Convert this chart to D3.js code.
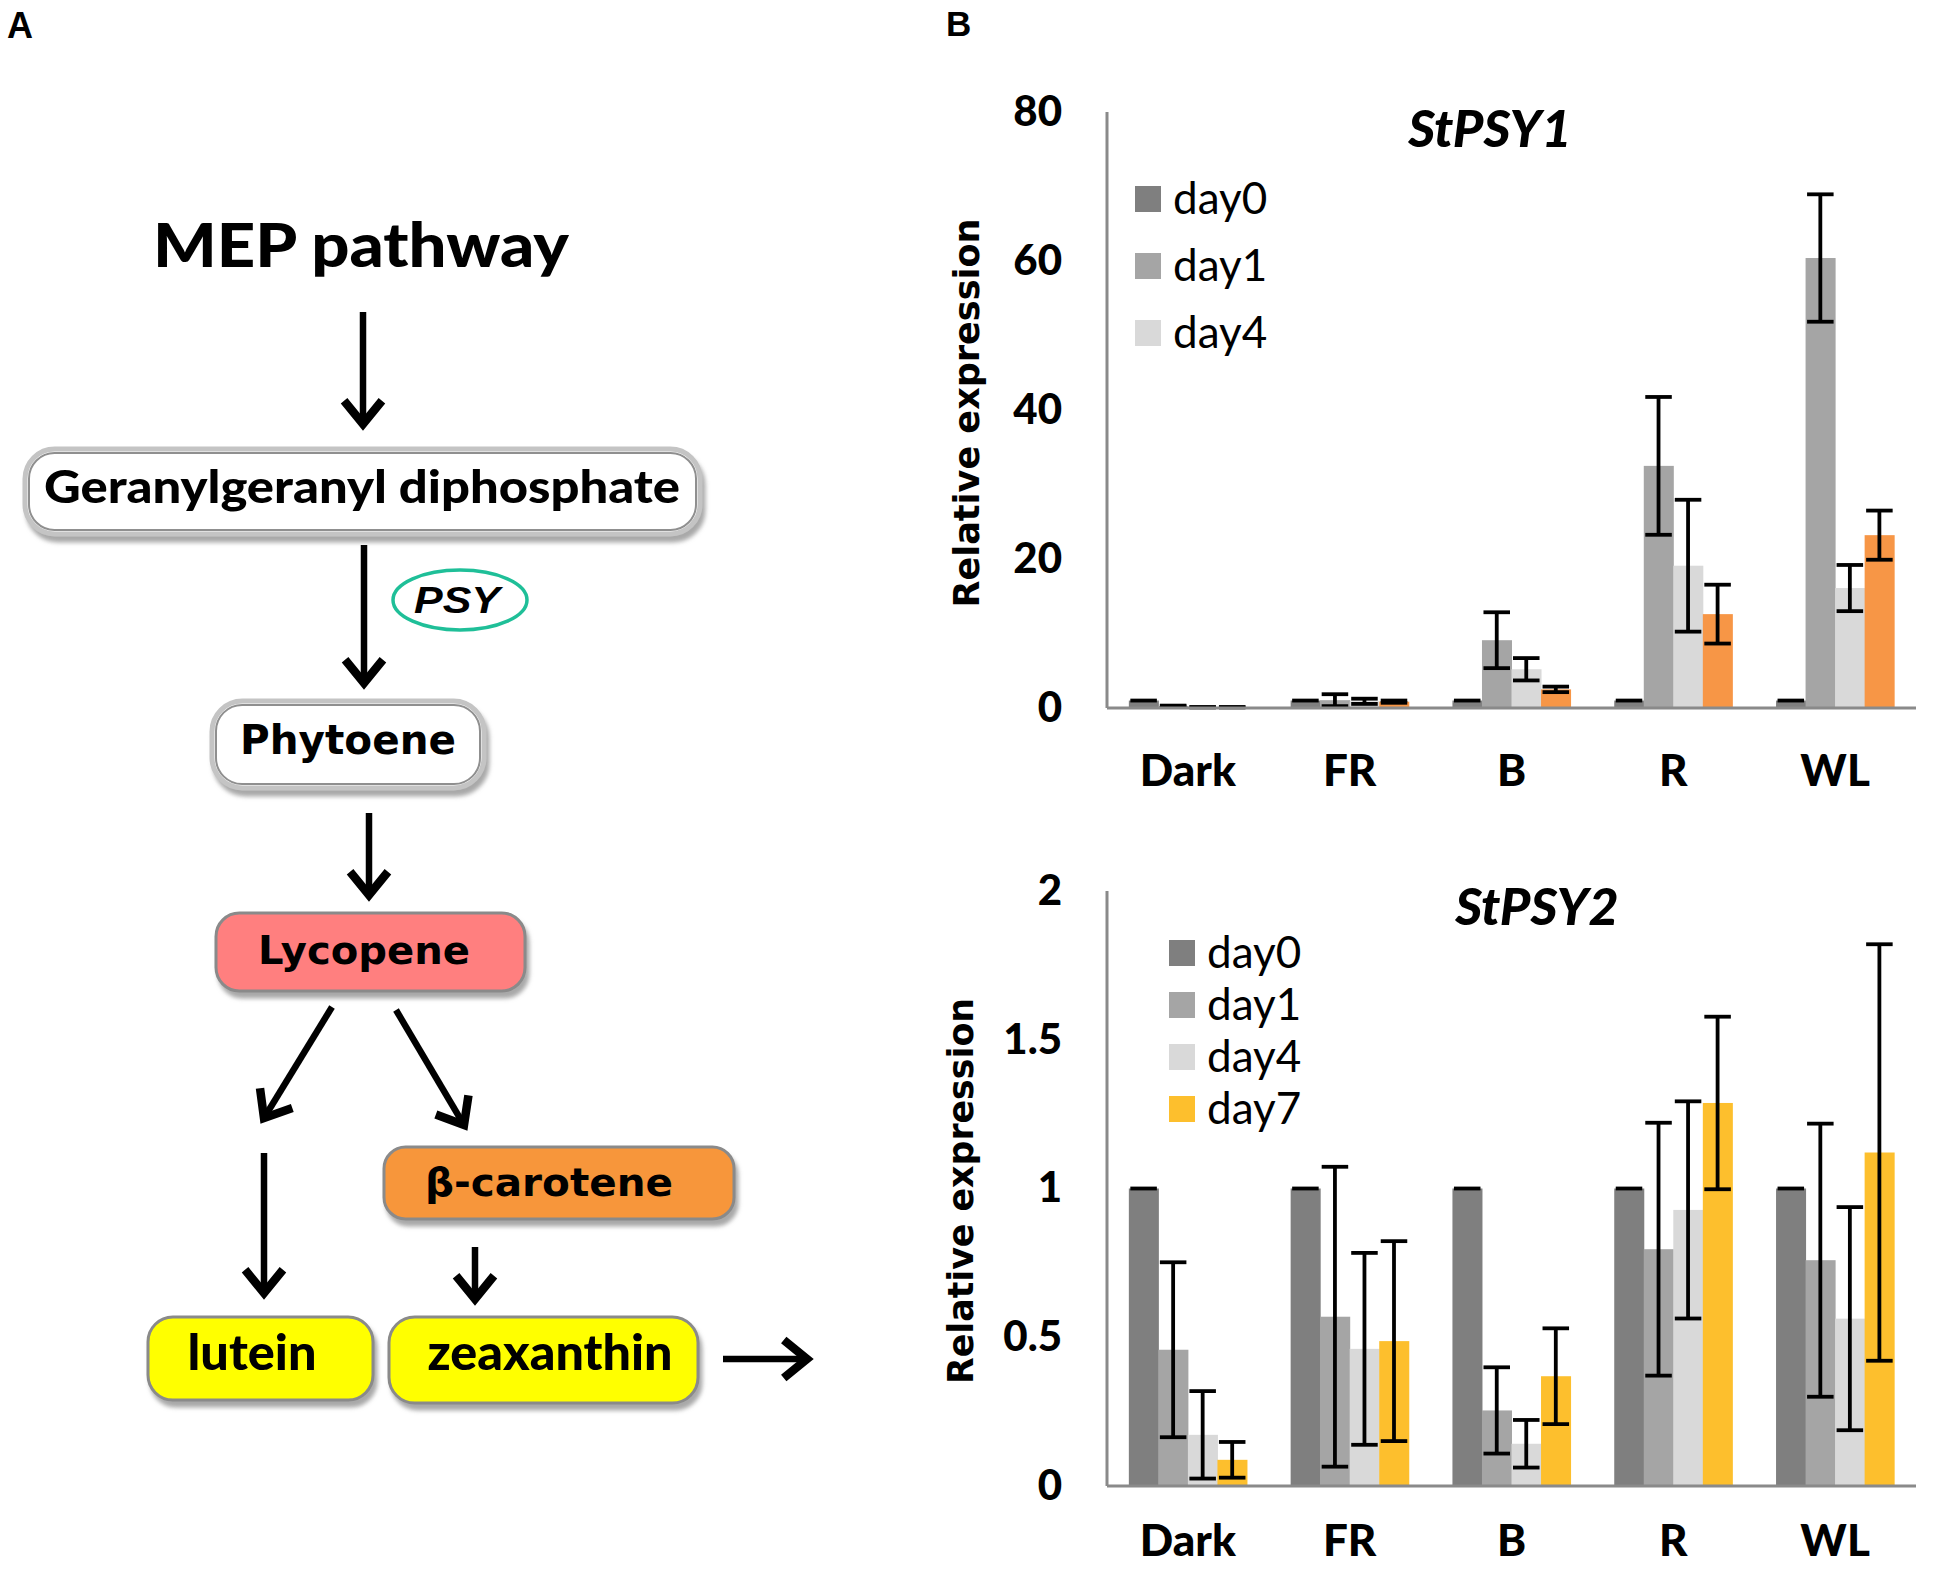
<!DOCTYPE html>
<html><head><meta charset="utf-8">
<script src="https://cdn.jsdelivr.net/npm/d3@7"></script>
<style>body{margin:0;background:#fff}svg{display:block;background:#fff}</style>
</head><body>
<svg id="c" width="1955" height="1570"></svg>
<script>
// ---------------- DATA ----------------
const categories = ["Dark", "FR", "B", "R", "WL"];
const seriesNames = ["day0", "day1", "day4", "day7"];

// StPSY1 (panel B, top)
const psy1Day0 = [1, 1, 1, 1, 1];
const psy1Day1 = [0.27, 1.05, 9.1, 32.5, 60.4];
const psy1Day4 = [0.1, 0.9, 5.2, 19.1, 16.1];
const psy1Day7 = [0.1, 0.85, 2.5, 12.6, 23.2];
const psy1Err0 = [0, 0, 0, 0, 0];
const psy1Err1 = [0.05, 0.8, 3.75, 9.25, 8.55];
const psy1Err4 = [0.03, 0.35, 1.5, 8.85, 3.1];
const psy1Err7 = [0.03, 0.15, 0.37, 3.95, 3.3];
const psy1Ticks = [0, 20, 40, 60, 80];
const psy1Legend = ["day0", "day1", "day4"];

// StPSY2 (panel B, bottom)
const psy2Day0 = [1, 1, 1, 1, 1];
const psy2Day1 = [0.458, 0.569, 0.254, 0.796, 0.759];
const psy2Day4 = [0.172, 0.461, 0.142, 0.928, 0.5625];
const psy2Day7 = [0.088, 0.487, 0.369, 1.2875, 1.121];
const psy2Err0 = [0, 0, 0, 0, 0];
const psy2Err1 = [0.294, 0.504, 0.145, 0.425, 0.459];
const psy2Err4 = [0.147, 0.3225, 0.08, 0.365, 0.375];
const psy2Err7 = [0.06, 0.336, 0.161, 0.29, 0.70];
const psy2Ticks = [0, 0.5, 1, 1.5, 2];
const psy2TickLabels = ["0", "0.5", "1", "1.5", "2"];
const psy2Legend = ["day0", "day1", "day4", "day7"];

// Panel A pathway labels
const pathwayLabels = ["MEP pathway", "Geranylgeranyl diphosphate", "PSY", "Phytoene",
  "Lycopene", "β-carotene", "lutein", "zeaxanthin"];

// ---------------- DRAWING ----------------
const svg = d3.select("#c");
const defs = svg.append("defs");
const f = defs.append("filter").attr("id", "shadow").attr("x", "-10%").attr("y", "-20%")
  .attr("width", "130%").attr("height", "160%");
f.append("feDropShadow").attr("dx", 3).attr("dy", 6).attr("stdDeviation", 2)
  .attr("flood-color", "#8c8c8c").attr("flood-opacity", 0.75);

const CAL = "Lato, 'Open Sans', sans-serif";
const VER = "'DejaVu Sans', Verdana, sans-serif";
const ARI = "'Liberation Sans', Arial, sans-serif";

// panel letters
svg.append("text").attr("x", 7).attr("y", 38).text("A")
  .style("font-family", ARI).style("font-weight", "bold").style("font-size", "36px");
svg.append("text").attr("x", 946).attr("y", 36).text("B")
  .style("font-family", ARI).style("font-weight", "bold").style("font-size", "35px");

function drawChart(o) {
  const g = svg.append("g");
  const x = d3.scaleBand().domain(categories).range([o.x0, o.x1])
    .paddingInner(0.27).paddingOuter(0.135);
  const xs = d3.scaleBand().domain(seriesNames).range([0, x.bandwidth()]).padding(0);
  const y = d3.scaleLinear().domain([0, o.yMax]).range([o.yBottom, o.yTop]);
  const bw = xs.bandwidth();

  const rows = [];
  seriesNames.forEach((s, si) => {
    categories.forEach((c, ci) => {
      rows.push({ s, c, v: o.means[si][ci], e: o.errs[si][ci], color: o.colors[si] });
    });
  });

  g.append("g").selectAll("rect").data(rows).join("rect")
    .attr("x", d => x(d.c) + xs(d.s))
    .attr("y", d => y(d.v))
    .attr("width", bw + 0.5)
    .attr("height", d => y(0) - y(d.v))
    .attr("fill", d => d.color);

  // error bars
  const eg = g.append("g").attr("stroke", "#000").attr("stroke-width", 3.8);
  const capW = bw - 3;
  rows.forEach(d => {
    const cx = x(d.c) + xs(d.s) + bw / 2;
    const yt = y(d.v + d.e), yb = y(d.v - d.e);
    if (d.e > 0) eg.append("line").attr("x1", cx).attr("x2", cx).attr("y1", yt).attr("y2", yb);
    eg.append("line").attr("x1", cx - capW / 2).attr("x2", cx + capW / 2).attr("y1", yt).attr("y2", yt);
    if (d.e > 0) eg.append("line").attr("x1", cx - capW / 2).attr("x2", cx + capW / 2).attr("y1", yb).attr("y2", yb);
  });

  // axes
  const ya = d3.axisLeft(y).tickValues(o.ticks).tickSize(0).tickSizeOuter(0).tickPadding(45)
    .tickFormat((d, i) => o.tickLabels[i]);
  const yg = g.append("g").attr("transform", `translate(${o.x0},0)`).call(ya);
  const xa = d3.axisBottom(x).tickSize(0).tickSizeOuter(0).tickPadding(o.xPad);
  const xg = g.append("g").attr("transform", `translate(0,${o.yBottom})`).call(xa);
  [yg, xg].forEach(a => {
    a.select(".domain").attr("stroke", "#8a8a8a").attr("stroke-width", 3);
    a.selectAll("text").style("font-family", CAL).style("font-weight", "900")
      .attr("fill", "#000");
  });
  yg.selectAll("text").style("font-size", "42px");
  xg.selectAll("text").style("font-size", "44px");
  yg.select(".domain").attr("d", `M0,${o.yTop}V${o.yBottom}`);
  xg.select(".domain").attr("d", `M${o.x0},0H${o.x1}`);

  // y title
  g.append("text").text("Relative expression")
    .attr("transform", `translate(${o.ytX},${o.ytY}) rotate(-90)`)
    .attr("text-anchor", "middle").attr("dy", "0.36em")
    .attr("textLength", o.ytLen).attr("lengthAdjust", "spacingAndGlyphs")
    .style("font-family", VER).style("font-weight", "bold").style("font-size", "35px");

  // title
  g.append("text").text(o.title).attr("x", o.tX).attr("y", o.tY)
    .attr("text-anchor", "middle")
    .style("font-family", CAL).style("font-weight", "900").style("font-style", "italic")
    .style("font-size", "52px");

  // legend
  const lg = g.append("g");
  o.legend.forEach((name, i) => {
    const si = seriesNames.indexOf(name);
    const cy = o.lgY0 + i * o.lgStep;
    lg.append("rect").attr("x", o.lgX).attr("y", cy - 13).attr("width", 26).attr("height", 26)
      .attr("fill", o.colors[si]);
    lg.append("text").text(name).attr("x", o.lgX + 38).attr("y", cy + 15)
      .style("font-family", CAL).style("font-size", "44px");
  });
}

drawChart({
  x0: 1107, x1: 1916, yTop: 112, yBottom: 708, yMax: 80, xPad: 47,
  ticks: psy1Ticks, tickLabels: psy1Ticks.map(String),
  means: [psy1Day0, psy1Day1, psy1Day4, psy1Day7],
  errs: [psy1Err0, psy1Err1, psy1Err4, psy1Err7],
  colors: ["#7f7f7f", "#a5a5a5", "#d9d9d9", "#f79646"],
  title: "StPSY1", tX: 1490, tY: 147,
  ytX: 966, ytY: 413, ytLen: 389,
  legend: psy1Legend, lgX: 1135, lgY0: 199, lgStep: 67
});

drawChart({
  x0: 1107, x1: 1916, yTop: 891, yBottom: 1486, yMax: 2, xPad: 39,
  ticks: psy2Ticks, tickLabels: psy2TickLabels,
  means: [psy2Day0, psy2Day1, psy2Day4, psy2Day7],
  errs: [psy2Err0, psy2Err1, psy2Err4, psy2Err7],
  colors: ["#7f7f7f", "#a5a5a5", "#d9d9d9", "#fdbf2d"],
  title: "StPSY2", tX: 1537, tY: 925,
  ytX: 960, ytY: 1191, ytLen: 386,
  legend: psy2Legend, lgX: 1169, lgY0: 953, lgStep: 52
});

// ---------------- PANEL A (pathway diagram) ----------------
const A = svg.append("g");
function arrow(x1, y1, x2, y2) {
  const ang = Math.atan2(y2 - y1, x2 - x1);
  const L = 30, a = Math.PI / 4.6;
  const p1 = [x2 - L * Math.cos(ang - a), y2 - L * Math.sin(ang - a)];
  const p2 = [x2 - L * Math.cos(ang + a), y2 - L * Math.sin(ang + a)];
  const path = d3.path();
  path.moveTo(x1, y1); path.lineTo(x2 - 3 * Math.cos(ang), y2 - 3 * Math.sin(ang));
  A.append("path").attr("d", path.toString()).attr("stroke", "#000").attr("stroke-width", 6.5).attr("fill", "none");
  const h = d3.path();
  h.moveTo(p1[0], p1[1]); h.lineTo(x2, y2); h.lineTo(p2[0], p2[1]);
  A.append("path").attr("d", h.toString()).attr("stroke", "#000").attr("stroke-width", 8.5)
    .attr("fill", "none").attr("stroke-linejoin", "miter").attr("stroke-miterlimit", 10);
}
function box(x, y, w, h, fill, double) {
  if (double) {
    A.append("rect").attr("x", x).attr("y", y).attr("width", w).attr("height", h)
      .attr("rx", h * 0.35).attr("fill", "#fff").attr("stroke", "#c4c4c4").attr("stroke-width", 5)
      .attr("filter", "url(#shadow)");
    A.append("rect").attr("x", x + 4).attr("y", y + 4).attr("width", w - 8).attr("height", h - 8)
      .attr("rx", h * 0.3).attr("fill", "#fff").attr("stroke", "#8f8f8f").attr("stroke-width", 2);
  } else {
    A.append("rect").attr("x", x).attr("y", y).attr("width", w).attr("height", h)
      .attr("rx", h * 0.3).attr("fill", fill).attr("stroke", "#8a8a8a").attr("stroke-width", 3)
      .attr("filter", "url(#shadow)");
  }
}
function label(t, cx, by, size, fam, len, extra) {
  const el = A.append("text").text(t).attr("x", cx).attr("y", by).attr("text-anchor", "middle")
    .style("font-family", fam).style("font-weight", "bold").style("font-size", size + "px");
  if (len) el.attr("textLength", len).attr("lengthAdjust", "spacingAndGlyphs");
  if (extra) extra(el);
  return el;
}

label(pathwayLabels[0], 361, 267, 60, CAL, 416, el => el.style("font-weight", "900"));
arrow(363, 312, 363, 424);
box(25, 449, 675, 85, null, true);
label(pathwayLabels[1], 362, 503, 46, CAL, 636, el => el.style("font-weight", "900"));
arrow(364, 545, 364, 683);
A.append("ellipse").attr("cx", 460).attr("cy", 600).attr("rx", 67).attr("ry", 30)
  .attr("fill", "#fff").attr("stroke", "#1fbf98").attr("stroke-width", 3.5);
label(pathwayLabels[2], 457, 613, 36, ARI, 86, el => el.style("font-style", "italic"));
box(212, 701, 272, 87, null, true);
label(pathwayLabels[3], 348, 754, 40, VER, 216);
arrow(369, 813, 369, 895);
box(216, 913, 309, 78, "#ff7f7f", false);
label(pathwayLabels[4], 364, 964, 39, VER, 212);
arrow(332, 1007, 264, 1118);
arrow(396, 1010, 464, 1125);
arrow(264, 1153, 264, 1293);
box(384, 1147, 350, 72, "#f7963b", false);
label(pathwayLabels[5], 549, 1196, 39, VER, 248);
arrow(475, 1247, 475, 1299);
box(148, 1317, 225, 83, "#ffff00", false);
label(pathwayLabels[6], 252, 1370, 50, CAL, 129, el => el.style("font-weight", "900"));
box(389, 1317, 309, 86, "#ffff00", false);
label(pathwayLabels[7], 550, 1370, 50, CAL, 245, el => el.style("font-weight", "900"));
arrow(723, 1359, 807, 1359);
</script>
</body></html>
